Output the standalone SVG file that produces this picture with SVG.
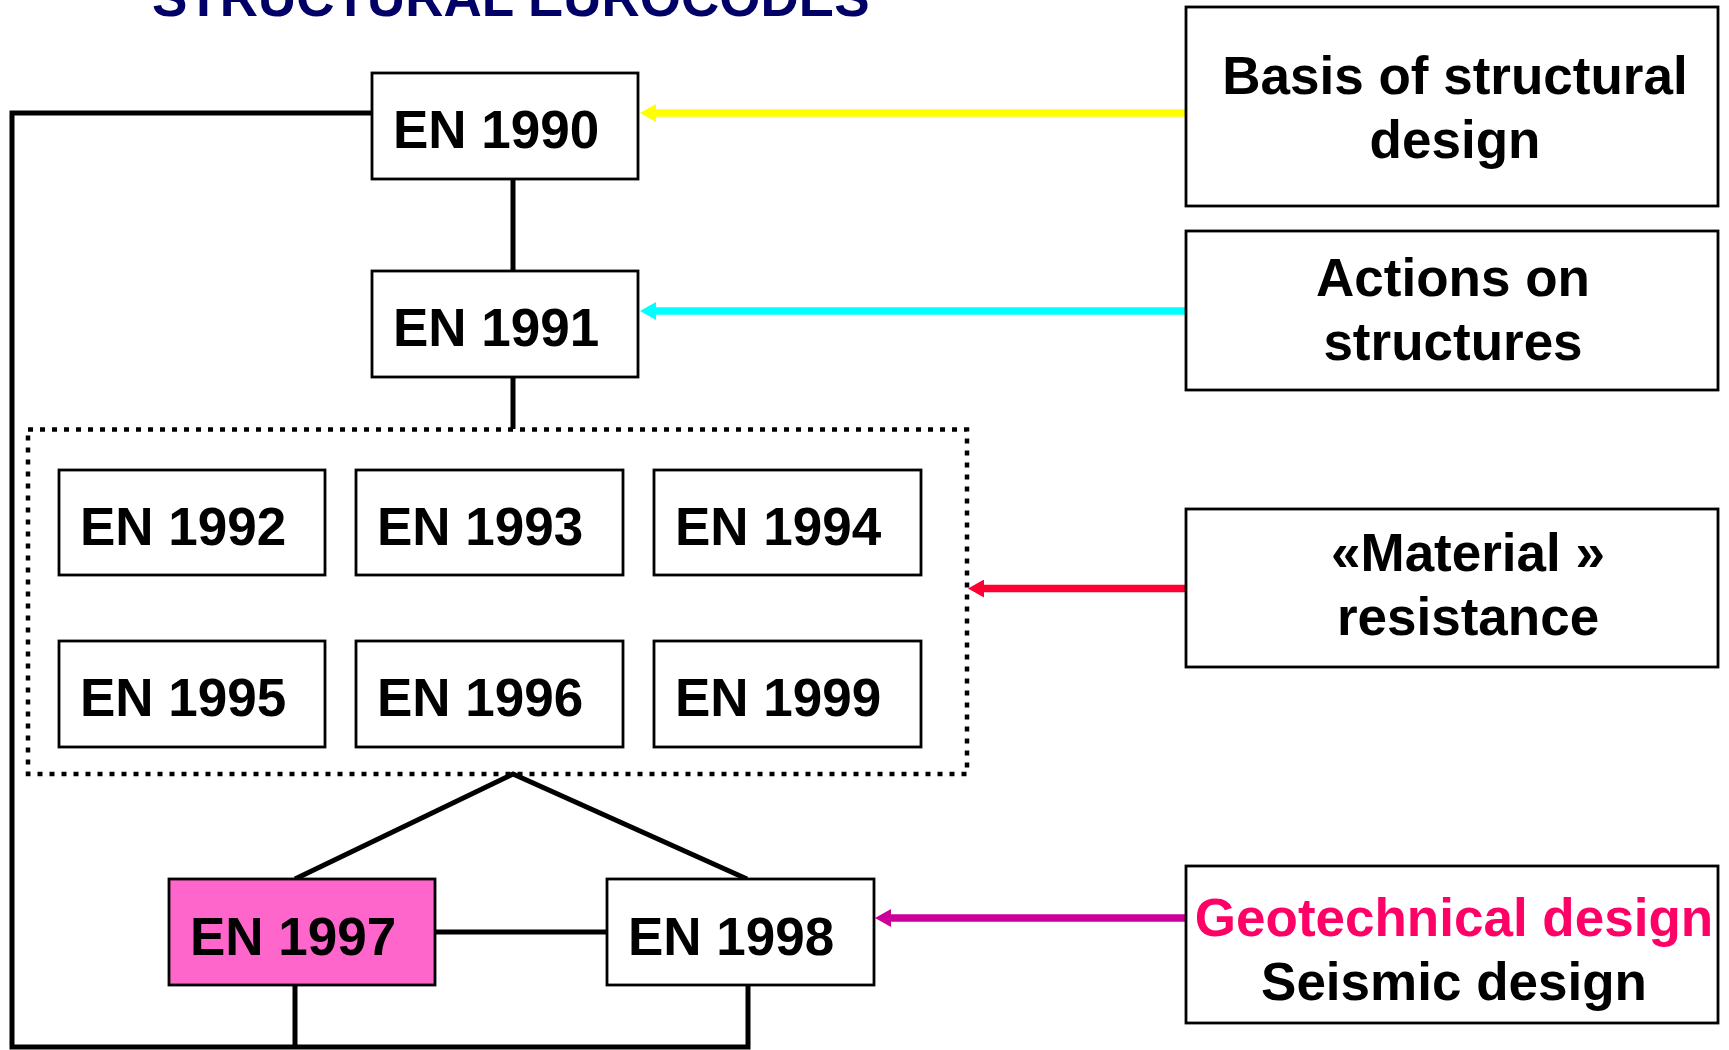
<svg xmlns="http://www.w3.org/2000/svg" width="1729" height="1050" viewBox="0 0 1729 1050">
<style>
text{font-family:"Liberation Sans",Arial,sans-serif;font-weight:bold;font-size:53px;fill:#000}
.box{fill:#fff;stroke:#000;stroke-width:2.8}
.pink{fill:#FF66CC}
.c{text-anchor:middle}
.ln{fill:none;stroke:#000;stroke-width:5;stroke-linejoin:miter}
.dot{fill:none;stroke:#000;stroke-width:4.5;stroke-dasharray:5 7}
.arr{fill:none;stroke-width:7.5}
</style>
<defs>
<marker id="mY" viewBox="0 0 16 18" refX="1" refY="9" markerWidth="16" markerHeight="18" markerUnits="userSpaceOnUse" orient="auto"><path d="M0,0 L16,9 L0,18 z" fill="#FFFF00"/></marker>
<marker id="mC" viewBox="0 0 16 18" refX="1" refY="9" markerWidth="16" markerHeight="18" markerUnits="userSpaceOnUse" orient="auto"><path d="M0,0 L16,9 L0,18 z" fill="#00FFFF"/></marker>
<marker id="mR" viewBox="0 0 16 18" refX="1" refY="9" markerWidth="16" markerHeight="18" markerUnits="userSpaceOnUse" orient="auto"><path d="M0,0 L16,9 L0,18 z" fill="#FF0033"/></marker>
<marker id="mM" viewBox="0 0 16 18" refX="1" refY="9" markerWidth="16" markerHeight="18" markerUnits="userSpaceOnUse" orient="auto"><path d="M0,0 L16,9 L0,18 z" fill="#CC0099"/></marker>
</defs>
<rect width="1729" height="1050" fill="#fff"/>
<text id="title" x="152" y="16" style="fill:#000066">STRUCTURAL EUROCODES</text>
<g id="connectors">
<path class="ln" d="M372,113 H12 V1047 H748 V985"/>
<path class="ln" d="M295,985 V1047"/>
<path class="ln" d="M513,179 V271"/>
<path class="ln" d="M513,377 V429"/>
<path class="ln" d="M295,879 L513,774 L747,879"/>
<path class="ln" d="M435,932 H607"/>
<path class="arr" stroke="#FFFF00" d="M1186,113 H655" marker-end="url(#mY)"/>
<path class="arr" stroke="#00FFFF" d="M1186,311 H655" marker-end="url(#mC)"/>
<path class="arr" stroke="#FF0033" d="M1186,588.5 H983" marker-end="url(#mR)"/>
<path class="arr" stroke="#CC0099" d="M1186,918 H890" marker-end="url(#mM)"/>
</g>
<g id="group-materials"><rect class="dot" x="28" y="429.5" width="939" height="344.5"/></g>
<g id="en1990"><rect class="box" x="372" y="73" width="266" height="106"/><text x="393" y="148">EN 1990</text></g>
<g id="en1991"><rect class="box" x="372" y="271" width="266" height="106"/><text x="393" y="346">EN 1991</text></g>
<g id="en1992"><rect class="box" x="59" y="470" width="266" height="105"/><text x="80" y="545">EN 1992</text></g>
<g id="en1993"><rect class="box" x="356" y="470" width="267" height="105"/><text x="377" y="545">EN 1993</text></g>
<g id="en1994"><rect class="box" x="654" y="470" width="267" height="105"/><text x="675" y="545">EN 1994</text></g>
<g id="en1995"><rect class="box" x="59" y="641" width="266" height="106"/><text x="80" y="716">EN 1995</text></g>
<g id="en1996"><rect class="box" x="356" y="641" width="267" height="106"/><text x="377" y="716">EN 1996</text></g>
<g id="en1999"><rect class="box" x="654" y="641" width="267" height="106"/><text x="675" y="716">EN 1999</text></g>
<g id="en1997"><rect class="box pink" x="169" y="879" width="266" height="106"/><text x="190" y="955">EN 1997</text></g>
<g id="en1998"><rect class="box" x="607" y="879" width="267" height="106"/><text x="628" y="955">EN 1998</text></g>
<g id="basis"><rect class="box" x="1186" y="7" width="532" height="199"/><text class="c" x="1455" y="94">Basis of structural</text><text class="c" x="1455" y="158">design</text></g>
<g id="actions"><rect class="box" x="1186" y="231" width="532" height="159"/><text class="c" x="1453" y="296">Actions on</text><text class="c" x="1453" y="360">structures</text></g>
<g id="material"><rect class="box" x="1186" y="509" width="532" height="158"/><text class="c" x="1468" y="571">«Material »</text><text class="c" x="1468" y="635">resistance</text></g>
<g id="geo"><rect class="box" x="1186" y="866" width="532" height="157"/><text class="c" x="1454" y="936" style="fill:#FF0066">Geotechnical design</text><text class="c" x="1454" y="1000">Seismic design</text></g>
</svg>
